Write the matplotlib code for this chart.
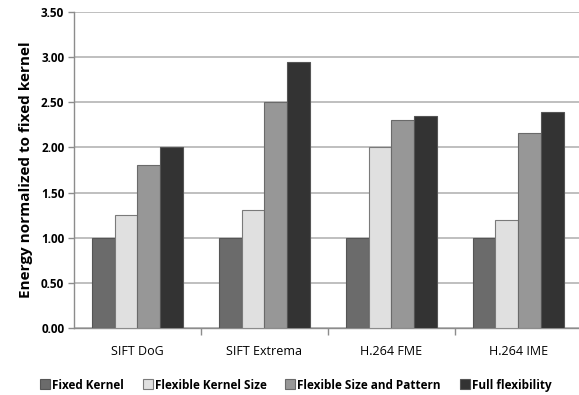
import matplotlib
matplotlib.use("Agg")
import matplotlib.pyplot as plt
import numpy as np

# Chart data
categories = ["SIFT DoG", "SIFT Extrema", "H.264 FME", "H.264 IME"]
series_names = ["Fixed Kernel", "Flexible Kernel Size", "Flexible Size and Pattern", "Full flexibility"]
fixed_kernel = [1.00, 1.00, 1.00, 1.00]
flexible_kernel_size = [1.25, 1.31, 2.00, 1.20]
flexible_size_pattern = [1.80, 2.50, 2.30, 2.16]
full_flexibility = [2.00, 2.95, 2.35, 2.39]
y_ticks = [0.0, 0.5, 1.0, 1.5, 2.0, 2.5, 3.0, 3.5]

series = [fixed_kernel, flexible_kernel_size, flexible_size_pattern, full_flexibility]
colors = ["#6b6b6b", "#e0e0e0", "#979797", "#333333"]
edges = ["#555555", "#7a7a7a", "#6a6a6a", "#555555"]

plt.rcParams['font.family'] = ['Open Sans', 'DejaVu Sans']

fig = plt.figure(figsize=(5.79, 3.95), dpi=100)
ax = fig.add_axes([0.1278, 0.1696, 0.877, 0.80])

x = np.arange(len(categories))
w = 0.18
for i, (vals, c, ec) in enumerate(zip(series, colors, edges)):
    ax.bar(x + (i - 1.5) * w, vals, width=w, color=c, edgecolor=ec,
           linewidth=0.8, label=series_names[i], zorder=3)

ax.set_xlim(-0.5, 3.5)
ax.set_ylim(0, 3.5)
ax.set_yticks(y_ticks)
ax.set_yticklabels(["%.2f" % v for v in y_ticks], fontsize=8.5, fontweight="bold")
ax.yaxis.grid(True, color="#b4b4b4", linewidth=1.2, zorder=0)

ax.set_xticks(x)
ax.set_xticklabels(categories, fontsize=9)
ax.tick_params(axis="x", which="major", length=0, pad=12)
ax.set_xticks([0.5, 1.5, 2.5], minor=True)
ax.tick_params(axis="x", which="minor", length=5, color="#8c8c8c", width=1)
ax.tick_params(axis="y", length=4, color="#8c8c8c", width=1, pad=3)

for side in ["top", "right"]:
    ax.spines[side].set_visible(False)
for side in ["left", "bottom"]:
    ax.spines[side].set_color("#8c8c8c")
    ax.spines[side].set_linewidth(1)

ax.set_ylabel("Energy normalized to fixed kernel", fontsize=11, fontweight="bold", labelpad=6)

handles = [plt.Line2D([0], [0], marker="s", linestyle="none", markersize=7,
                      markerfacecolor=c, markeredgecolor=ec, markeredgewidth=0.8)
           for c, ec in zip(colors, edges)]
fig.legend(handles, series_names, loc="center", bbox_to_anchor=(0.51, 0.025), ncol=4,
           frameon=False, prop={"weight": "bold", "size": 8.5}, handletextpad=0.1,
           columnspacing=1.5, handlelength=1.0)

fig.savefig("out.png", dpi=100)
